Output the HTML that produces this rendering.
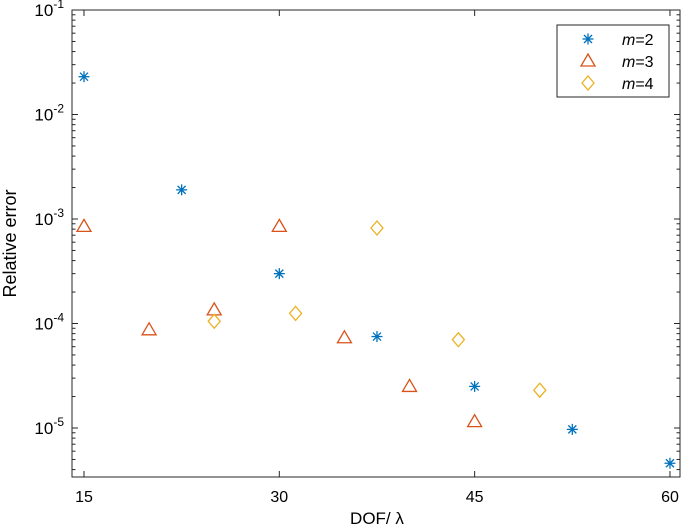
<!DOCTYPE html>
<html><head><meta charset="utf-8"><style>
html,body{margin:0;padding:0;background:#fff;}
svg{display:block;font-family:"Liberation Sans",Arial,sans-serif;}
</style></head><body>
<svg id="chart" width="685" height="530" viewBox="0 0 685 530" xmlns="http://www.w3.org/2000/svg"></svg>
<script>
const xTicks = [15, 30, 45, 60];
const yDecades = [-1, -2, -3, -4, -5];
const seriesNames = ["m=2", "m=3", "m=4"];
const m2x = [15, 22.5, 30, 37.5, 45, 52.5, 60];
const m2y = [0.023, 0.0019, 0.0003, 0.000075, 0.000025, 0.0000097, 0.0000046];
const m3x = [15, 20, 25, 30, 35, 40, 45];
const m3y = [0.00085, 0.000087, 0.000135, 0.00085, 0.000073, 0.000025, 0.0000115];
const m4x = [25, 31.25, 37.5, 43.75, 50];
const m4y = [0.000105, 0.000125, 0.00082, 0.00007, 0.000023];

const L=72,R=680,T=10,B=477;
const xMin=14.08,xMax=60.77,yTopLog=-1,yBotLog=-1-(B-T)/104.5;
const sx=v=>L+(v-xMin)/(xMax-xMin)*(R-L);
const sy=v=>T+(yTopLog-Math.log10(v))/(yTopLog-yBotLog)*(B-T);
const svg=document.getElementById('chart');
const NS='http://www.w3.org/2000/svg';
function mk(tag,attrs,parent){const e=document.createElementNS(NS,tag);for(const k in attrs)e.setAttribute(k,attrs[k]);(parent||svg).appendChild(e);return e;}
const C2='#0072BD',C3='#D95319',C4='#EDB120';

const frame=mk('rect',{x:L,y:T,width:R-L,height:B-T,fill:'none',stroke:'#262626','stroke-width':1});



xTicks.forEach(v=>{
  const x=sx(v);
  mk('line',{x1:x,x2:x,y1:B,y2:B-6,stroke:'#262626'});
  mk('line',{x1:x,x2:x,y1:T,y2:T+6,stroke:'#262626'});
  const t=mk('text',{x:x,y:B+25,'text-anchor':'middle','font-size':16,fill:'#000'});
  t.textContent=v;
  
  
});
for(let d=-6;d<=-1;d++){
  for(let k=1;k<10;k++){
    const v=k*Math.pow(10,d);
    const y=sy(v);
    if(y<T-0.5||y>B+0.5)continue;
    const len=k===1?6:3.5;
    mk('line',{x1:L,x2:L+len,y1:y,y2:y,stroke:'#262626'});
    mk('line',{x1:R,x2:R-len,y1:y,y2:y,stroke:'#262626'});
  }
}
yDecades.forEach(d=>{
  const y=sy(Math.pow(10,d));
  const t=mk('text',{x:L-8,y:y+6,'text-anchor':'end','font-size':17,fill:'#000'});
  
  
  const a=mk('tspan',{},t);a.textContent='10';
  const b=mk('tspan',{dy:-8,'font-size':12},t);b.textContent=String(d);
});
const xt=mk('text',{x:(sx(30)+sx(45))/2,y:524,'text-anchor':'middle','font-size':17,fill:'#000'});
xt.textContent='DOF/ λ';


const yt=mk('text',{x:16,y:(T+B)/2,'text-anchor':'middle','font-size':18,fill:'#000',transform:`rotate(-90 16 ${(T+B)/2})`});
yt.textContent='Relative error';



function star(x,y,p){const g=mk('g',{stroke:C2,'stroke-width':1.3},p);
  mk('line',{x1:x-5.5,x2:x+5.5,y1:y,y2:y},g);mk('line',{x1:x,x2:x,y1:y-5.5,y2:y+5.5},g);
  mk('line',{x1:x-4,x2:x+4,y1:y-4,y2:y+4},g);mk('line',{x1:x-4,x2:x+4,y1:y+4,y2:y-4},g);return g;}
function tri(x,y,p){return mk('polygon',{points:`${x},${y-7} ${x+7},${y+5} ${x-7},${y+5}`,fill:'none',stroke:C3,'stroke-width':1.3},p);}
function dia(x,y,p){return mk('polygon',{points:`${x},${y-7} ${x+6},${y} ${x},${y+7} ${x-6},${y}`,fill:'none',stroke:C4,'stroke-width':1.3},p);}

m2x.forEach((v,i)=>{const e=star(sx(v),sy(m2y[i]));
  
  });
m3x.forEach((v,i)=>{const e=tri(sx(v),sy(m3y[i]));
  
  });
m4x.forEach((v,i)=>{const e=dia(sx(v),sy(m4y[i]));
  
  });

const lg=mk('g',{});


mk('rect',{x:557,y:25,width:112,height:72,fill:'#fff',stroke:'#262626','stroke-width':1},lg);
const fns=[star,tri,dia];
seriesNames.forEach((n,i)=>{
  const y=39+i*22;
  const g=mk('g',{},lg);
  
  
  fns[i](588,y,g);
  const t=mk('text',{x:622,y:y+6,'font-size':16,fill:'#000'},g);
  const a=mk('tspan',{'font-style':'italic'},t);a.textContent='m';
  const b=mk('tspan',{},t);b.textContent=n.slice(1);
});
</script>
</body></html>
